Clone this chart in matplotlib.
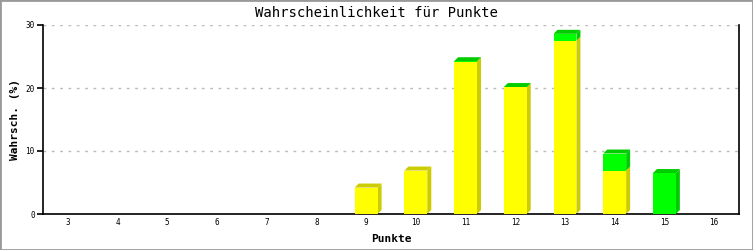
import numpy as np
import matplotlib.pyplot as plt
from matplotlib.patches import Polygon, Rectangle

# Daten
punkte = [3, 4, 5, 6, 7, 8, 9, 10, 11, 12, 13, 14, 15, 16]
gelb = [0, 0, 0, 0, 0, 0, 4.2, 6.9, 24.2, 20.1, 27.5, 6.9, 0, 0]
gruen = [0, 0, 0, 0, 0, 0, 0, 0, 0.05, 0.05, 1.1, 2.7, 6.5, 0]

GELB, GELB_D = '#ffff00', '#cccc00'
GRUEN, GRUEN_D = '#00ff00', '#00cc00'

fig = plt.figure(figsize=(7.53, 2.5), dpi=100)
ax = fig.add_axes([43 / 753, 36 / 250, 696 / 753, 189 / 250])
ax.set_xlim(2.5, 16.5)
ax.set_ylim(0, 30)

# Tiefe der 3D-Balken in Datenkoordinaten (ca. 4 px)
dx = 4 / 696 * 14
dy = 4 / 189 * 30
w = 0.46


def balken(x, y0, h, farbe, dunkel, oben):
    if h <= 0:
        return
    l, r = x - w / 2, x + w / 2
    ax.add_patch(Rectangle((l, y0), w, h, facecolor=farbe, edgecolor='none', zorder=3))
    # Seite
    ax.add_patch(Polygon([(r, y0), (r + dx, y0 + dy), (r + dx, y0 + h + dy), (r, y0 + h)],
                         closed=True, facecolor=dunkel, edgecolor='none', zorder=2))
    if oben:
        ax.add_patch(Polygon([(l, y0 + h), (l + dx, y0 + h + dy), (r + dx, y0 + h + dy), (r, y0 + h)],
                             closed=True, facecolor=dunkel, edgecolor='none', zorder=2))


for x, g, gr in zip(punkte, gelb, gruen):
    balken(x, 0, g, GELB, GELB_D, gr <= 0)
    balken(x, g, gr, GRUEN, GRUEN_D, True)

ax.set_yticks([0, 10, 20, 30])
ax.set_xticks(punkte)
ax.yaxis.grid(True, linestyle=(0, (2, 4)), color='#bbbbbb', linewidth=1)
ax.set_axisbelow(True)
ax.spines['top'].set_visible(False)
for s in ['left', 'bottom', 'right']:
    ax.spines[s].set_linewidth(1.2)
ax.tick_params(axis='y', length=4, width=1.2, labelsize=5.5, pad=2)
ax.tick_params(axis='x', length=0, labelsize=5.5, pad=3)
for lab in ax.get_xticklabels() + ax.get_yticklabels():
    lab.set_family('DejaVu Sans Mono')

fig.text(0.5, 1 - 13 / 250, 'Wahrscheinlichkeit für Punkte', ha='center', va='center',
         family='DejaVu Sans Mono', fontsize=10)
ax.set_xlabel('Punkte', family='DejaVu Sans Mono', fontsize=8, fontweight='bold', labelpad=5)
ax.set_ylabel('Wahrsch. (%)', family='DejaVu Sans Mono', fontsize=8, fontweight='bold', labelpad=4)

# Rahmen ums Bild
fig.patches.append(Rectangle((0, 0), 1, 1, transform=fig.transFigure, fill=False,
                             edgecolor='#999999', linewidth=2))

fig.savefig('out.png', dpi=100)
